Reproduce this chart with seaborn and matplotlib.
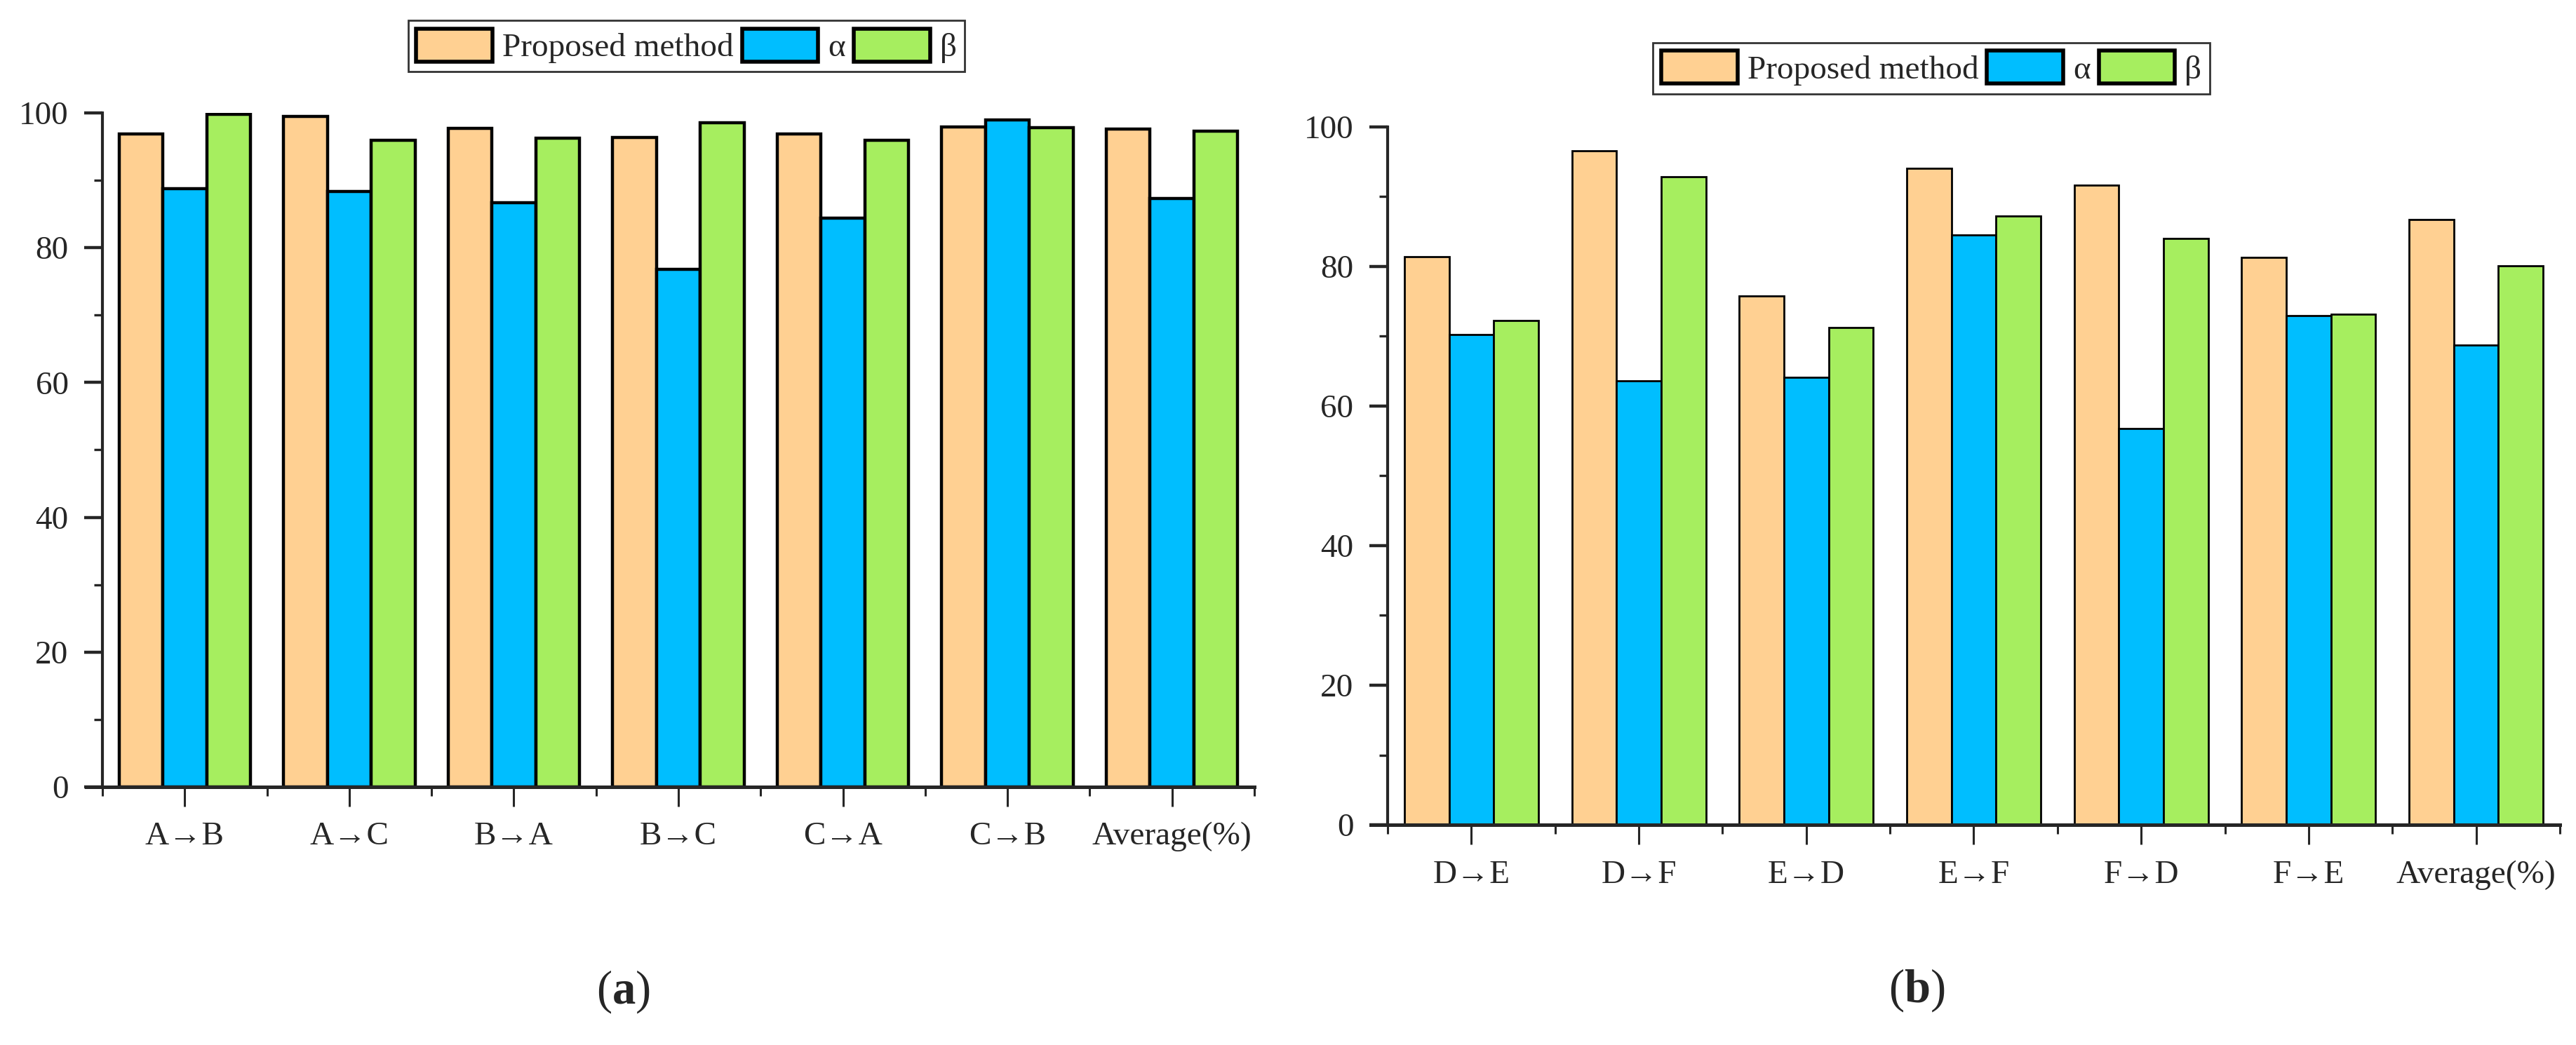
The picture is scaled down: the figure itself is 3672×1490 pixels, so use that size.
import numpy as np
import pandas as pd
import matplotlib
matplotlib.use("Agg")
import matplotlib.pyplot as plt
from matplotlib.ticker import MultipleLocator
import seaborn as sns

# ================= DATA =================
methods = ["Proposed method", "α", "β"]
colors = ["#FFD092", "#00BEFF", "#A6EE5F"]

tasks_a = ["A→B", "A→C", "B→A", "B→C", "C→A", "C→B", "Average(%)"]
proposed_a = [96.9, 99.5, 97.7, 96.4, 96.9, 97.9, 97.6]
alpha_a = [88.8, 88.3, 86.7, 76.8, 84.4, 99.0, 87.3]
beta_a = [99.8, 95.9, 96.2, 98.5, 95.9, 97.8, 97.3]

tasks_b = ["D→E", "D→F", "E→D", "E→F", "F→D", "F→E", "Average(%)"]
proposed_b = [81.4, 96.6, 75.8, 94.0, 91.6, 81.3, 86.7]
alpha_b = [70.2, 63.6, 64.1, 84.5, 56.8, 72.9, 68.7]
beta_b = [72.2, 92.8, 71.2, 87.2, 84.0, 73.1, 80.1]

panel_labels = [r"($\mathbf{a}$)", r"($\mathbf{b}$)"]

sns.set_style("ticks")
plt.rcParams['font.family'] = ['Liberation Serif', 'DejaVu Serif']
plt.rcParams['mathtext.fontset'] = 'custom'
plt.rcParams['mathtext.rm'] = 'Liberation Serif'
plt.rcParams['mathtext.bf'] = 'Liberation Serif:bold'


def long_frame(tasks, series):
    rows = []
    for name, vals in zip(methods, series):
        for t, v in zip(tasks, vals):
            rows.append({"task": t, "method": name, "acc": v})
    return pd.DataFrame(rows)


def draw_panel(ax, df, tasks, edge_lw, legend_anchor):
    sns.barplot(data=df, x="task", y="acc", hue="method", order=tasks,
                hue_order=methods, palette=colors, saturation=1,
                edgecolor="black", linewidth=edge_lw, width=0.8,
                errorbar=None, ax=ax)
    ax.set_xlim(-0.5, len(tasks) - 0.5)
    ax.set_ylim(0, 100)
    ax.set_xlabel("")
    ax.set_ylabel("")
    sns.despine(ax=ax)
    ax.spines['left'].set_linewidth(1.5)
    ax.spines['bottom'].set_linewidth(1.8)
    ax.spines['bottom'].set_bounds(-0.6, len(tasks) - 0.5)

    ax.yaxis.set_major_locator(MultipleLocator(20))
    ax.yaxis.set_minor_locator(MultipleLocator(10))
    ax.set_xticks(range(len(tasks)))
    ax.set_xticklabels(tasks)
    ax.set_xticks(np.arange(-0.5, len(tasks)), minor=True)
    ax.tick_params(axis='y', which='major', length=9.5, width=1.6,
                   labelsize=17, pad=8)
    ax.tick_params(axis='y', which='minor', length=4.5, width=1.2)
    ax.tick_params(axis='x', which='major', length=10, width=1.1,
                   labelsize=17, pad=8)
    ax.tick_params(axis='x', which='minor', length=4.5, width=1.1)

    handles, labels = ax.get_legend_handles_labels()
    if ax.get_legend() is not None:
        ax.get_legend().remove()
    leg = ax.legend(handles, labels, ncol=3, loc="center",
                    bbox_to_anchor=legend_anchor, fontsize=17,
                    frameon=True, fancybox=False, edgecolor="black",
                    handlelength=2.3, handleheight=1.15,
                    handletextpad=0.3, columnspacing=0.25,
                    borderpad=0.25, borderaxespad=0)
    leg.get_frame().set_linewidth(1.0)
    for h in leg.legend_handles:
        h.set_linewidth(2.0)
        h.set_edgecolor("black")


fig = plt.figure(figsize=(18.36, 7.45), dpi=200)
ax_a = fig.add_axes([0.0398, 0.247, 0.4471, 0.645])
ax_b = fig.add_axes([0.5387, 0.2107, 0.455, 0.668])

df_a = long_frame(tasks_a, [proposed_a, alpha_a, beta_a])
df_b = long_frame(tasks_b, [proposed_b, alpha_b, beta_b])

draw_panel(ax_a, df_a, tasks_a, 1.6, (0.507, 1.099))
draw_panel(ax_b, df_b, tasks_b, 1.0, (0.464, 1.084))

fig.text(888 / 3672, 1 - 1414 / 1490, panel_labels[0], fontsize=24,
         ha="center", va="center")
fig.text(2732 / 3672, 1 - 1412 / 1490, panel_labels[1], fontsize=24,
         ha="center", va="center")

fig.savefig("out.png", dpi=200, facecolor="white")
